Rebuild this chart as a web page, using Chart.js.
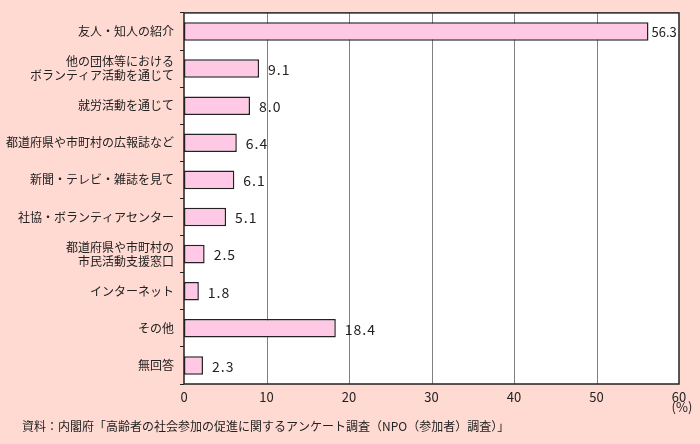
<!DOCTYPE html>
<html>
<head>
<meta charset="utf-8">
<script src="https://cdn.jsdelivr.net/npm/chart.js@4/dist/chart.umd.min.js"></script>
<style>
  html,body{margin:0;padding:0;background:#ffdad2}
  #wrap{width:700px;height:444px;position:relative}
</style>
</head>
<body>
<div id="wrap"><canvas id="chart" width="700" height="444"></canvas></div>
<script>
const categories = [
  '友人・知人の紹介',
  ['他の団体等における', 'ボランティア活動を通じて'],
  '就労活動を通じて',
  '都道府県や市町村の広報誌など',
  '新聞・テレビ・雑誌を見て',
  '社協・ボランティアセンター',
  ['都道府県や市町村の', '市民活動支援窓口'],
  'インターネット',
  'その他',
  '無回答'
];
const values = [56.3, 9.1, 8.0, 6.4, 6.1, 5.1, 2.5, 1.8, 18.4, 2.3];
const xTicks = [0, 10, 20, 30, 40, 50, 60];
const unitLabel = '(%)';
const sourceNote = '資料：内閣府「高齢者の社会参加の促進に関するアンケート調査（NPO（参加者）調査）」';

const FONT = '"Noto Sans CJK JP", "Noto Sans", sans-serif';
const INK = '#222';

const frame = {
  id: 'frame',
  beforeDatasetsDraw(chart) {
    const {ctx, chartArea: a} = chart;
    ctx.save();
    ctx.fillStyle = '#fff';
    ctx.fillRect(a.left, a.top, a.right - a.left, a.bottom - a.top);
    const x = chart.scales.x;
    ctx.strokeStyle = '#808080';
    ctx.lineWidth = 1;
    xTicks.slice(1, -1).forEach(v => {
      const px = Math.round(x.getPixelForValue(v)) + 0.5;
      ctx.beginPath(); ctx.moveTo(px, a.top); ctx.lineTo(px, a.bottom); ctx.stroke();
    });
    ctx.restore();
  },
  afterDatasetsDraw(chart) {
    const {ctx, chartArea: a} = chart;
    ctx.save();
    ctx.strokeStyle = INK;
    ctx.lineWidth = 1.5;
    ctx.strokeRect(a.left, a.top, a.right - a.left, a.bottom - a.top);
    // value labels (the long bar's label is squeezed in against the frame)
    ctx.fillStyle = INK;
    ctx.textBaseline = 'middle';
    ctx.textAlign = 'left';
    chart.getDatasetMeta(0).data.forEach((bar, i) => {
      const tight = values[i] > 50;
      ctx.font = (tight ? '13px ' : '14px ') + FONT;
      ctx.letterSpacing = tight ? '0px' : '1px';
      ctx.fillText(values[i].toFixed(1), bar.x + (tight ? 3 : 9), bar.y + 1);
    });
    // unit under the last tick
    const x = chart.scales.x;
    ctx.font = '13px ' + FONT;
    ctx.letterSpacing = '0px';
    ctx.textAlign = 'center';
    ctx.fillText(unitLabel, x.getPixelForValue(60) + 3, a.bottom + 23);
    // source note
    ctx.font = '12px ' + FONT;
    ctx.textAlign = 'left';
    ctx.fillText(sourceNote, 22, 426);
    ctx.restore();
  }
};

new Chart(document.getElementById('chart'), {
  type: 'bar',
  data: {
    labels: categories,
    datasets: [{
      data: values,
      backgroundColor: '#ffc8e4',
      borderColor: INK,
      borderWidth: 1.5,
      borderSkipped: false,
      barPercentage: 0.5,
      categoryPercentage: 1.0
    }]
  },
  options: {
    indexAxis: 'y',
    responsive: false,
    animation: false,
    layout: {padding: {top: 11, right: 21, bottom: 0, left: 0}},
    plugins: {legend: {display: false}, tooltip: {enabled: false}},
    scales: {
      x: {
        min: 0, max: 60,
        afterBuildTicks: s => { s.ticks = xTicks.map(v => ({value: v})); },
        afterFit: s => { s.height = 60; },
        grid: {display: false, drawTicks: false},
        border: {display: false},
        ticks: {color: INK, font: {family: FONT, size: 13}, padding: 5, maxRotation: 0}
      },
      y: {
        afterFit: s => { s.width = 184; },
        grid: {offset: true, drawOnChartArea: false, drawTicks: true, tickLength: 4, color: INK},
        border: {display: false},
        ticks: {color: INK, font: {family: FONT, size: 12, lineHeight: 1.15}, padding: 6}
      }
    }
  },
  plugins: [frame]
});
</script>
</body>
</html>
